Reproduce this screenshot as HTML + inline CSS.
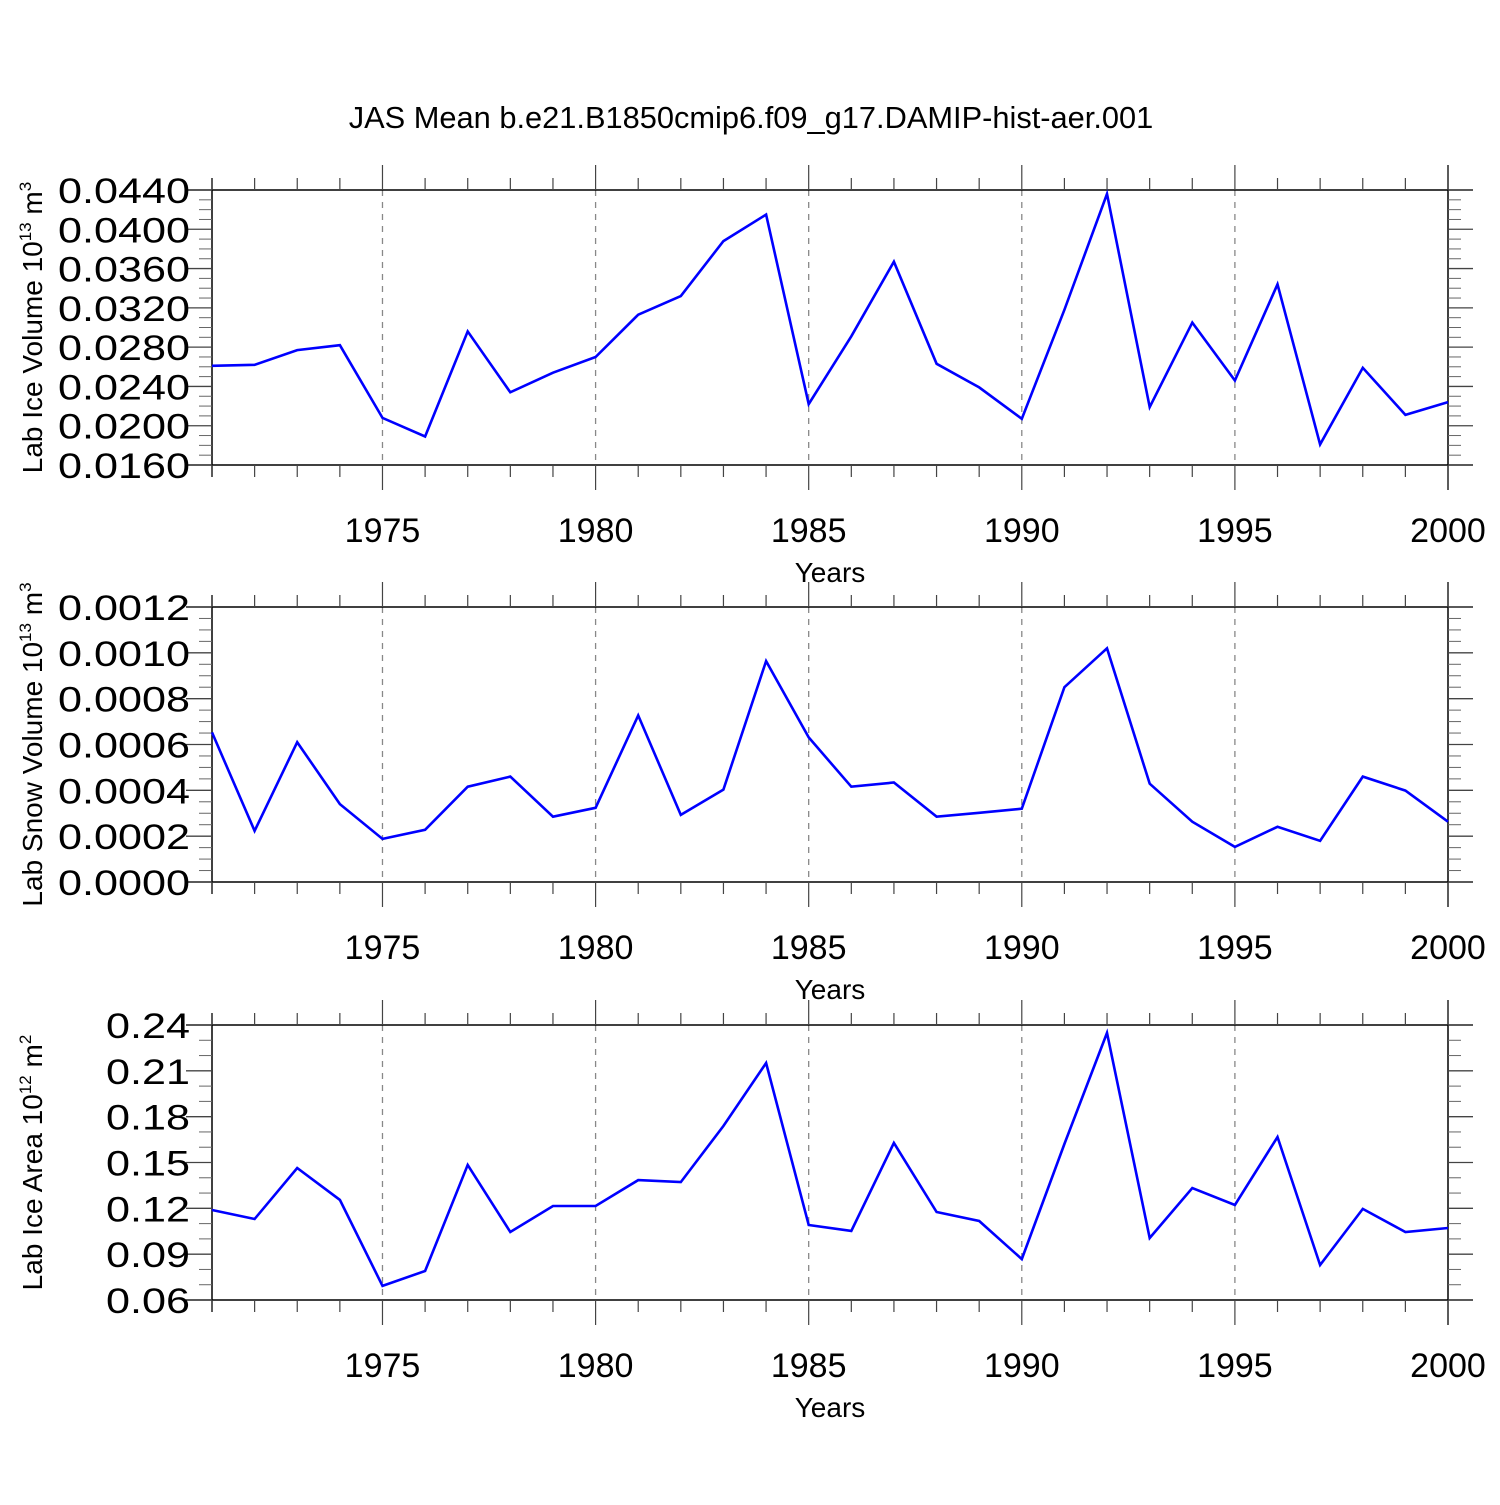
<!DOCTYPE html>
<html><head><meta charset="utf-8"><style>
body{margin:0;background:#fff}
svg text{font-family:"Liberation Sans",sans-serif;fill:#000}
</style></head><body>
<svg id="c" width="1500" height="1500" xmlns="http://www.w3.org/2000/svg">
<text x="751" y="128" font-size="30.8" text-anchor="middle">JAS Mean b.e21.B1850cmip6.f09_g17.DAMIP-hist-aer.001</text>
</svg>
<script>
const years=[1971,1972,1973,1974,1975,1976,1977,1978,1979,1980,1981,1982,1983,1984,1985,1986,1987,1988,1989,1990,1991,1992,1993,1994,1995,1996,1997,1998,1999,2000];
const iceVolume=[0.0261,0.0262,0.0277,0.0282,0.0208,0.0189,0.0296,0.0234,0.0254,0.0270,0.0313,0.0332,0.0388,0.0415,0.0222,0.0291,0.0367,0.0263,0.0239,0.0207,0.0318,0.0436,0.0219,0.0305,0.0246,0.0344,0.0181,0.0259,0.0211,0.0224];
const snowVolume=[0.000653,0.000223,0.00061,0.00034,0.000188,0.000228,0.000416,0.00046,0.000285,0.000324,0.000727,0.000293,0.000403,0.000964,0.000631,0.000416,0.000434,0.000285,0.000302,0.00032,0.00085,0.00102,0.000429,0.000263,0.000153,0.000241,0.00018,0.00046,0.000399,0.000263];
const iceArea=[0.1189,0.113,0.1464,0.1255,0.0692,0.079,0.1484,0.1045,0.1215,0.1215,0.1385,0.1372,0.1739,0.2151,0.1091,0.1052,0.1628,0.1176,0.1117,0.0868,0.1621,0.2348,0.1006,0.1333,0.1222,0.1667,0.0829,0.1196,0.1045,0.1071];
const xTicks=[1975,1980,1985,1990,1995,2000];
const iceVolTicks=["0.0160","0.0200","0.0240","0.0280","0.0320","0.0360","0.0400","0.0440"];
const snowTicks=["0.0000","0.0002","0.0004","0.0006","0.0008","0.0010","0.0012"];
const areaTicks=["0.06","0.09","0.12","0.15","0.18","0.21","0.24"];

const svg=document.getElementById('c');const NS='http://www.w3.org/2000/svg';
function mk(t,a,p){const e=document.createElementNS(NS,t);for(const k in a)e.setAttribute(k,a[k]);(p||svg).appendChild(e);return e;}
const X0=212,X1=1448;
function xs(y){return X0+(y-1971)*(X1-X0)/(2000-1971);}

function panel(top,vals,ticks,minorPer,titleMain,sup,unit,usup,name){
  const bot=top+275;
  const g=mk('g',{});
  
  
  const lo=parseFloat(ticks[0]),hi=parseFloat(ticks[ticks.length-1]);
  const ys=v=>bot-(v-lo)/(hi-lo)*(bot-top);
  for(let y=1975;y<2000;y+=5){const l=mk('line',{x1:xs(y),x2:xs(y),y1:top,y2:bot,stroke:'#888','stroke-width':1.3,'stroke-dasharray':'6,6'},g);
    }
  mk('line',{x1:186,x2:1473,y1:top,y2:top,stroke:'#000','stroke-width':1.5},g);
  mk('line',{x1:186,x2:1473,y1:bot,y2:bot,stroke:'#000','stroke-width':1.5},g);
  mk('line',{x1:X0,x2:X0,y1:top-12,y2:bot+12,stroke:'#000','stroke-width':1.5},g);
  mk('line',{x1:X1,x2:X1,y1:top-25,y2:bot+25,stroke:'#000','stroke-width':1.5},g);
  for(let y=1971;y<=2000;y++){const maj=y%5===0;const L=maj?25:12;
    mk('line',{x1:xs(y),x2:xs(y),y1:top-L,y2:top,stroke:'#444','stroke-width':1.2},g);
    mk('line',{x1:xs(y),x2:xs(y),y1:bot,y2:bot+L,stroke:'#444','stroke-width':1.2},g);}
  xTicks.forEach(y=>{const t=mk('text',{x:xs(y),y:bot+77,'font-size':34,'text-anchor':'middle'},g);t.textContent=y;
    });
  const xt=mk('text',{x:830,y:bot+117,'font-size':28,'text-anchor':'middle'},g);xt.textContent='Years';
  
  const step=(hi-lo)/(ticks.length-1);
  for(let i=0;i<ticks.length;i++){const v=parseFloat(ticks[i]);const y=ys(v);
    mk('line',{x1:186,x2:X0,y1:y,y2:y,stroke:'#444','stroke-width':1.3},g);
    mk('line',{x1:X1,x2:1473,y1:y,y2:y,stroke:'#444','stroke-width':1.3},g);
    const s=ticks[i];const w=(s.length-1)*24+12;
    const t=mk('text',{x:190,y:y+13,'font-size':35,'text-anchor':'end',textLength:w,lengthAdjust:'spacingAndGlyphs'},g);t.textContent=s;
    
    if(i<ticks.length-1)for(let m=1;m<=minorPer;m++){const ym=ys(v+step*m/(minorPer+1));
      mk('line',{x1:199,x2:X0,y1:ym,y2:ym,stroke:'#666','stroke-width':1},g);
      mk('line',{x1:X1,x2:1461,y1:ym,y2:ym,stroke:'#666','stroke-width':1},g);}
  }
  const yt=mk('text',{transform:`translate(42,${(top+bot)/2}) rotate(-90)`,'font-size':28,'text-anchor':'middle'},g);
  yt.innerHTML=titleMain+'<tspan font-size="17" dy="-11">'+sup+'</tspan><tspan dy="11"> '+unit+'</tspan><tspan font-size="17" dy="-11">'+usup+'</tspan>';
  
  const d=vals.map((v,i)=>(i?'L':'M')+xs(years[i]).toFixed(1)+','+ys(v).toFixed(1)).join(' ');
  const p=mk('path',{d:d,fill:'none',stroke:'#0000ff','stroke-width':2.6,'stroke-linejoin':'miter'},g);
  
}
panel(190,iceVolume,iceVolTicks,3,'Lab Ice Volume 10','13','m','3','ice-volume');
panel(607,snowVolume,snowTicks,3,'Lab Snow Volume 10','13','m','3','snow-volume');
panel(1025,iceArea,areaTicks,2,'Lab Ice Area 10','12','m','2','ice-area');
</script>
</body></html>
